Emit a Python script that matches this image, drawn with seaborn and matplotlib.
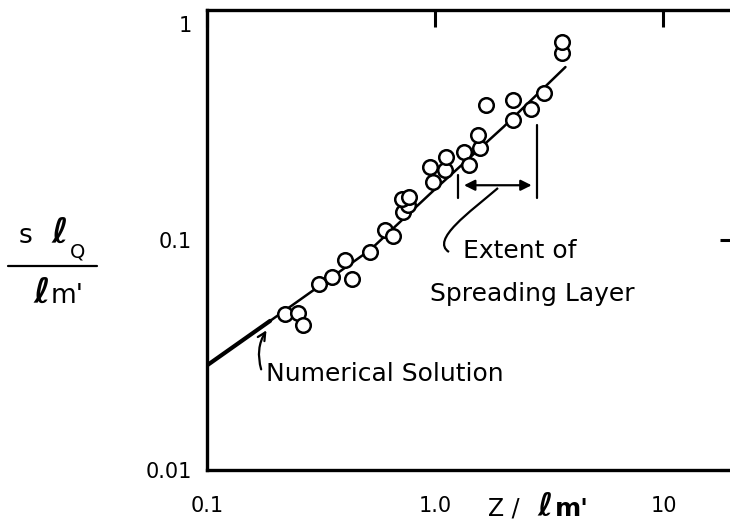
import matplotlib
matplotlib.use("Agg")
import matplotlib.pyplot as plt
from matplotlib.path import Path
from matplotlib.patches import PathPatch
from matplotlib.transforms import IdentityTransform, ScaledTranslation
from matplotlib.ticker import FixedLocator, FixedFormatter, NullLocator
import pandas as pd
import seaborn as sns

# Measured points: dimensionless height vs. dimensionless plume parameter
z_ratio = [0.220, 0.251, 0.264, 0.310, 0.353, 0.432, 0.403, 0.519, 0.604, 0.655,
           0.724, 0.762, 0.716, 0.769, 0.980, 0.951, 1.106, 1.117, 1.34, 1.41,
           1.57, 1.54, 1.67, 2.20, 2.20, 2.64, 3.01, 3.60, 3.60]
s_ratio = [0.0477, 0.0482, 0.0427, 0.0644, 0.0691, 0.0676, 0.0818, 0.0887, 0.1105, 0.104,
           0.1324, 0.142, 0.151, 0.154, 0.179, 0.208, 0.201, 0.230, 0.242, 0.212,
           0.251, 0.286, 0.386, 0.332, 0.406, 0.371, 0.435, 0.650, 0.726]

# Fitted curve through the data
fit_z = [0.1, 0.231, 0.519, 0.970, 1.99, 3.72]
fit_s = [0.0285, 0.0512, 0.0906, 0.162, 0.310, 0.565]

# Numerical solution segment (heavier stroke)
num_z = [0.1, 0.189]
num_s = [0.0285, 0.0445]

# Axis ticks
x_ticks = [0.1, 1.0, 10.0]
x_tick_labels = ["0.1", "1.0", "10"]
y_ticks = [0.01, 0.1, 1.0]
y_tick_labels = ["0.01", "0.1", "1"]

sns.set_style("white")
plt.rcParams["font.family"] = ["DejaVu Sans"]
plt.rcParams["text.color"] = "black"
plt.rcParams["axes.labelcolor"] = "black"
plt.rcParams["xtick.color"] = "black"
plt.rcParams["ytick.color"] = "black"

W, H = 730, 525
fig = plt.figure(figsize=(W / 100, H / 100), dpi=100)
fig.patch.set_facecolor("white")

def fx(px):
    return px / W

def fy(py):
    return 1 - py / H

ax = fig.add_axes([fx(207), fy(470), fx(737) - fx(207), fy(10) - fy(470)])

pts = pd.DataFrame({"z": z_ratio, "s": s_ratio})
fit = pd.DataFrame({"z": fit_z, "s": fit_s})
num = pd.DataFrame({"z": num_z, "s": num_s})

sns.lineplot(data=fit, x="z", y="s", ax=ax, color="black", lw=1.8,
             estimator=None, sort=False, zorder=2)
sns.lineplot(data=num, x="z", y="s", ax=ax, color="black", lw=3.0,
             estimator=None, sort=False, zorder=2)
sns.scatterplot(data=pts, x="z", y="s", ax=ax, s=110, marker="o",
                facecolors="white", edgecolors="black", linewidth=1.8, zorder=3)

ax.set_xscale("log")
ax.set_yscale("log")
ax.set_xlim(0.1, 21.0)
ax.set_ylim(0.01, 1.0)

ax.xaxis.set_major_locator(FixedLocator(x_ticks))
ax.xaxis.set_major_formatter(FixedFormatter(x_tick_labels))
ax.yaxis.set_major_locator(FixedLocator(y_ticks))
ax.yaxis.set_major_formatter(FixedFormatter(y_tick_labels))
ax.xaxis.set_minor_locator(NullLocator())
ax.yaxis.set_minor_locator(NullLocator())

ax.tick_params(which="major", direction="in", length=12, width=2.2,
               top=True, right=True, labelsize=15, colors="black")
ax.tick_params(axis="x", pad=19)
ax.tick_params(axis="y", pad=11)
for sp in ax.spines.values():
    sp.set_visible(True)
    sp.set_color("black")
    sp.set_linewidth(2.4)
ax.set_xlabel("")
ax.set_ylabel("")
ax.grid(False)

# nudge the top y label down a little
fig.canvas.draw()
for lab in ax.get_yticklabels():
    if lab.get_text() == "1":
        lab.set_transform(lab.get_transform() + ScaledTranslation(0, -10 / 72, fig.dpi_scale_trans))

# x-axis label
fig.text(fx(488), fy(516), "Z /", fontsize=17, ha="left", va="baseline")
fig.text(fx(537), fy(516), "\u2113", fontsize=23, fontweight="bold", style="italic",
         ha="left", va="baseline")
fig.text(fx(555), fy(516), "m'", fontsize=18, fontweight="bold", ha="left", va="baseline")

# y-axis label drawn as a fraction
fig.text(fx(19), fy(243), "s", fontsize=19, ha="left", va="baseline")
fig.text(fx(51), fy(243), "\u2113", fontsize=25, fontweight="bold", style="italic",
         ha="left", va="baseline")
fig.text(fx(70), fy(257), "Q", fontsize=14, ha="left", va="baseline")
fig.add_artist(plt.Line2D([fx(8), fx(97)], [fy(266), fy(266)], color="black", lw=1.6,
                          transform=fig.transFigure))
fig.text(fx(33), fy(303), "\u2113", fontsize=25, fontweight="bold", style="italic",
         ha="left", va="baseline")
fig.text(fx(51), fy(303), "m'", fontsize=19, ha="left", va="baseline")

# Numerical solution note
fig.text(fx(266), fy(381), "Numerical Solution", fontsize=18, ha="left", va="baseline")
ax.annotate("", xy=(268, H - 328), xycoords="figure pixels",
            xytext=(262, H - 372), textcoords="figure pixels",
            arrowprops=dict(arrowstyle="->", color="black", lw=1.6,
                            connectionstyle="arc3,rad=-0.25", mutation_scale=14))

# Extent of spreading layer
fig.text(fx(463), fy(258), "Extent of", fontsize=18, ha="left", va="baseline")
fig.text(fx(430), fy(301), "Spreading Layer", fontsize=18, ha="left", va="baseline")
ax.plot([1.26, 1.26], [0.152, 0.192], color="black", lw=1.6)
ax.plot([2.80, 2.80], [0.152, 0.316], color="black", lw=1.6)
ax.annotate("", xy=(2.72, 0.173), xytext=(1.30, 0.173),
            arrowprops=dict(arrowstyle="<|-|>", color="black", lw=1.6, mutation_scale=16))
leader = Path([(449, H - 252), (430, H - 240), (470, H - 212), (498, H - 188)],
              [Path.MOVETO, Path.CURVE4, Path.CURVE4, Path.CURVE4])
fig.add_artist(PathPatch(leader, fill=False, ec="black", lw=1.6, transform=IdentityTransform()))

fig.savefig("out.png", dpi=100, facecolor="white")
